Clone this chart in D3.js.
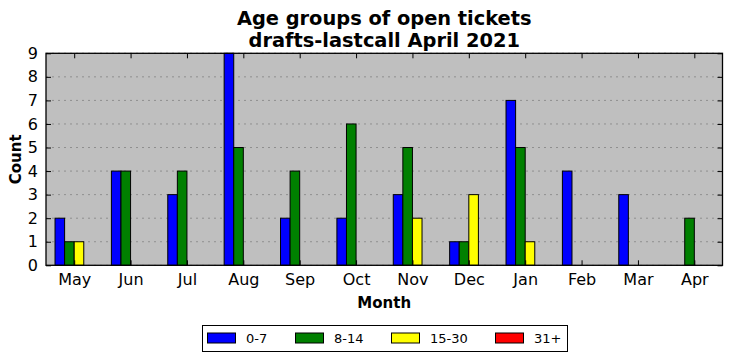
<!DOCTYPE html>
<html>
<head>
<meta charset="utf-8">
<script src="https://cdn.jsdelivr.net/npm/d3@7"></script>
<style>
  body { margin: 0; background: #fff; }
  text { font-family: "DejaVu Sans", sans-serif; }
</style>
</head>
<body>
<svg id="chart" width="732" height="361"></svg>
<script>
// data
var months = ["May", "Jun", "Jul", "Aug", "Sep", "Oct", "Nov", "Dec", "Jan", "Feb", "Mar", "Apr"];
var groups = ["0-7", "8-14", "15-30", "31+"];
var colors = ["#0000ff", "#008000", "#ffff00", "#ff0000"];
var age0to7 = [2, 4, 3, 9, 2, 2, 3, 1, 7, 4, 3, 0];
var age8to14 = [1, 4, 4, 5, 4, 6, 5, 1, 5, 0, 0, 2];
var age15to30 = [1, 0, 0, 0, 0, 0, 2, 3, 1, 0, 0, 0];
var age31plus = [0, 0, 0, 0, 0, 0, 0, 0, 0, 0, 0, 0];
var yTicks = [0, 1, 2, 3, 4, 5, 6, 7, 8, 9];

var series = [age0to7, age8to14, age15to30, age31plus];

var svg = d3.select("#chart"),
    plotL = 46, plotR = 722.5, plotT = 53.3, plotB = 265.3;

var x = d3.scaleLinear().domain([-0.5, 11.5]).range([plotL, plotR]);
var y = d3.scaleLinear().domain([0, 9]).range([plotB, plotT]);
var barW = 0.17; // in month units

// plot background
svg.append("rect")
    .attr("x", plotL).attr("y", plotT)
    .attr("width", plotR - plotL).attr("height", plotB - plotT)
    .attr("fill", "#bfbfbf");

// dotted grid
svg.append("g").selectAll("line")
    .data(yTicks)
    .enter()
    .append("line")
    .attr("x1", plotL).attr("x2", plotR)
    .attr("y1", d => y(d)).attr("y2", d => y(d))
    .attr("stroke", "#8f8f8f")
    .attr("stroke-width", 1)
    .attr("stroke-dasharray", "2,4");

// bars
series.forEach(function(vals, s) {
    svg.append("g").selectAll("rect")
        .data(vals)
        .enter()
        .append("rect")
        .attr("x", (d, i) => x(i + (s - 2) * barW))
        .attr("width", x(barW) - x(0))
        .attr("y", d => y(d))
        .attr("height", d => y(0) - y(d))
        .attr("fill", colors[s])
        .attr("stroke", "#000")
        .attr("stroke-width", 1);
});

// axes, ticks inward on all four sides
var xb = d3.axisBottom(x).tickValues(d3.range(months.length)).tickFormat(i => months[i]).tickSizeInner(-5).tickSizeOuter(0).tickPadding(8);
var xt = d3.axisTop(x).tickValues(d3.range(months.length)).tickFormat("").tickSizeInner(-5).tickSizeOuter(0);
var yl = d3.axisLeft(y).tickValues(yTicks).tickSizeInner(-5).tickSizeOuter(0).tickPadding(8);
var yr = d3.axisRight(y).tickValues(yTicks).tickFormat("").tickSizeInner(-5).tickSizeOuter(0);

function styleAxis(g) {
    g.select(".domain").remove();
    g.selectAll(".tick line").attr("stroke", "#000");
    g.selectAll("text").attr("font-size", 16).attr("fill", "#000").attr("font-family", "DejaVu Sans");
}
svg.append("g").attr("transform", "translate(0," + plotB + ")").call(xb).call(styleAxis);
svg.append("g").attr("transform", "translate(0," + plotT + ")").call(xt).call(styleAxis);
svg.append("g").attr("transform", "translate(" + plotL + ",0)").call(yl).call(styleAxis);
svg.append("g").attr("transform", "translate(" + plotR + ",0)").call(yr).call(styleAxis);

// frame
svg.append("rect")
    .attr("x", plotL).attr("y", plotT)
    .attr("width", plotR - plotL).attr("height", plotB - plotT)
    .attr("fill", "none").attr("stroke", "#000").attr("stroke-width", 1.3);

// titles
var cx = (plotL + plotR) / 2;
svg.append("text").attr("x", cx).attr("y", 25).attr("text-anchor", "middle")
    .attr("font-size", 19.4).attr("font-weight", "bold").text("Age groups of open tickets");
svg.append("text").attr("x", cx).attr("y", 47).attr("text-anchor", "middle")
    .attr("font-size", 19.4).attr("font-weight", "bold").text("drafts-lastcall April 2021");
svg.append("text").attr("x", cx).attr("y", 308).attr("text-anchor", "middle")
    .attr("font-size", 15).attr("font-weight", "bold").text("Month");
svg.append("text").attr("transform", "translate(21," + (plotT + plotB) / 2 + ") rotate(-90)")
    .attr("text-anchor", "middle")
    .attr("font-size", 15).attr("font-weight", "bold").text("Count");

// legend
var legX = [207, 295, 391, 495];
var legend = svg.append("g");
legend.append("rect")
    .attr("x", 202.5).attr("y", 325.5).attr("width", 365).attr("height", 26)
    .attr("fill", "#fff").attr("stroke", "#000").attr("stroke-width", 1);
var items = legend.selectAll("g.item")
    .data(groups)
    .enter()
    .append("g")
    .attr("class", "item")
    .attr("transform", (d, i) => "translate(" + legX[i] + ",0)");
items.append("rect")
    .attr("x", 0.5).attr("y", 333).attr("width", 28).attr("height", 10)
    .attr("fill", (d, i) => colors[i]).attr("stroke", "#000").attr("stroke-width", 1);
items.append("text")
    .attr("x", 39).attr("y", 343)
    .attr("font-size", 13).text(d => d);
</script>
</body>
</html>
